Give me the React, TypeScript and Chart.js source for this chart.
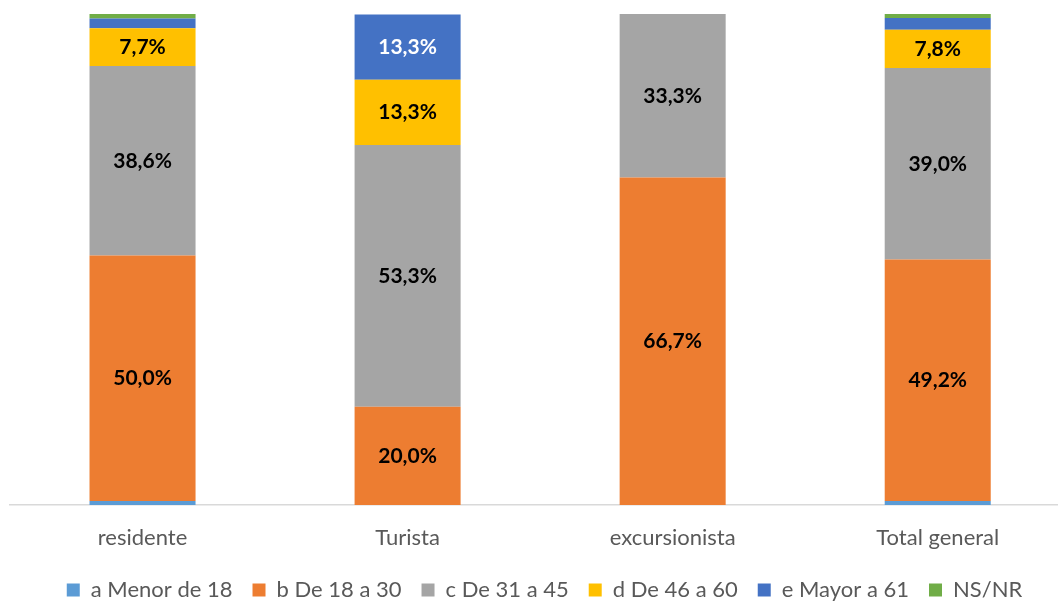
import React, { useEffect, useRef } from "react";
import { Chart, registerables } from "chart.js";

Chart.register(...registerables);

const categories = ["residente", "Turista", "excursionista", "Total general"];
const seriesNames = ["a Menor de 18", "b De 18 a 30", "c De 31 a 45", "d De 46 a 60", "e Mayor a 61", "NS/NR"];
const menor18 = [0.8, 0, 0, 0.8];
const de18a30 = [50.0, 20.0, 66.7, 49.2];
const de31a45 = [38.6, 53.3, 33.3, 39.0];
const de46a60 = [7.7, 13.3, 0, 7.8];
const mayor61 = [2.0, 13.3, 0, 2.4];
const nsnr = [0.9, 0, 0, 0.8];
const seriesValues = [menor18, de18a30, de31a45, de46a60, mayor61, nsnr];
const seriesColors = ["#5B9BD5", "#ED7D31", "#A5A5A5", "#FFC000", "#4472C4", "#70AD47"];
const labelColors = ["#000000", "#000000", "#000000", "#000000", "#FFFFFF", "#000000"];

const FONT = "Lato, 'Open Sans', sans-serif";

const labelPlugin = {
  id: "segLabels",
  beforeLayout(chart: any) {
    const lg = chart.legend;
    if (lg && !lg._patched) {
      const f = lg.fit.bind(lg);
      lg.fit = function () {
        f();
        this.height -= 8;
      };
      lg._patched = true;
    }
  },
  afterLayout(chart: any) {
    const lg = chart.legend;
    if (lg) {
      lg.left += 11;
      lg.right += 11;
    }
  },
  afterDatasetsDraw(chart: any) {
    const ctx = chart.ctx;
    ctx.save();
    ctx.font = `bold 21px ${FONT}`;
    ctx.textAlign = "center";
    ctx.textBaseline = "middle";
    chart.data.datasets.forEach((ds: any, di: number) => {
      const meta = chart.getDatasetMeta(di);
      meta.data.forEach((el: any, i: number) => {
        const v = ds.data[i].y;
        if (v < 5) return;
        ctx.fillStyle = labelColors[di];
        const y = (el.y + el.base) / 2;
        ctx.fillText(v.toFixed(1).replace(".", ",") + "%", el.x, y);
      });
    });
    ctx.restore();
  },
};

export default function App() {
  const ref = useRef<HTMLCanvasElement>(null);
  useEffect(() => {
    document.body.style.margin = "0";
    const chart = new Chart(ref.current!, {
      type: "bar",
      data: {
        datasets: seriesNames.map((name, di) => ({
          label: name,
          data: seriesValues[di].map((v, i) => ({ x: i, y: v })),
          backgroundColor: seriesColors[di],
          borderWidth: 0,
          barPercentage: 0.4,
          categoryPercentage: 1.0,
        })),
      },
      options: {
        animation: false,
        responsive: false,
        layout: { padding: { left: 10, right: 1, top: 14, bottom: 0 } },
        plugins: {
          tooltip: { enabled: false },
          legend: {
            position: "bottom",
            labels: {
              boxWidth: 13,
              boxHeight: 13,
              padding: 20,
              color: "#595959",
              font: { family: FONT, size: 22 },
            },
          },
        },
        scales: {
          x: {
            type: "linear",
            stacked: true,
            offset: false,
            min: -0.5,
            max: 3.45,
            grid: { display: false, drawTicks: false, offset: false },
            border: { display: true, color: "#D9D9D9", width: 1.5 },
            afterBuildTicks: (scale: any) => {
              scale.ticks = categories.map((_, i) => ({ value: i }));
            },
            afterFit: (scale: any) => {
              scale.height = 54;
            },
            ticks: {
              padding: 20,
              autoSkip: false,
              maxRotation: 0,
              color: "#595959",
              font: { family: FONT, size: 22 },
              callback: (v: any) => categories[v] ?? "",
            },
          },
          y: {
            stacked: true,
            display: false,
            min: 0,
            max: 100,
          },
        },
      },
      plugins: [labelPlugin],
    } as any);
    return () => chart.destroy();
  }, []);
  return (
    <div style={{ width: 1058, height: 603 }}>
      <canvas ref={ref} width={1058} height={603} />
    </div>
  );
}
